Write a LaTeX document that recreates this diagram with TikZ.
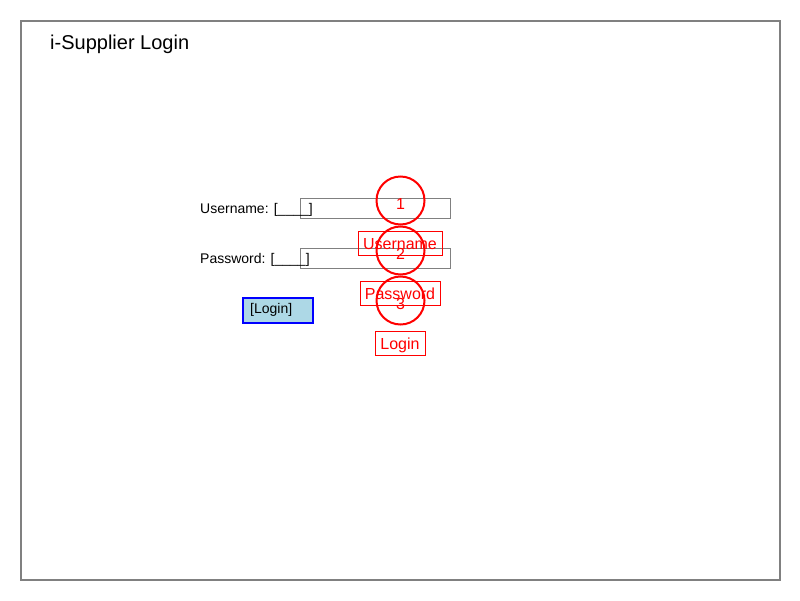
\documentclass[tikz,border=0pt]{standalone}
\usepackage{fontspec}
\setmainfont{Liberation Sans}
\begin{document}
\begin{tikzpicture}[x=1pt,y=-1pt,
  frame/.style={draw=gray, line width=2pt},
  field/.style={draw=gray, line width=1pt, minimum width=150pt, minimum height=20pt, inner sep=0pt},
  lbl/.style={anchor=west, inner sep=0pt, font=\fontsize{14pt}{16pt}\selectfont},
  btn/.style={draw=blue, fill={rgb,255:red,173;green,216;blue,230}, line width=2pt, minimum width=70pt, minimum height=25pt, inner sep=0pt},
  marker/.style={circle, draw=red, line width=2pt, minimum size=48pt, inner sep=0pt, text=red, font=\fontsize{16pt}{18pt}\selectfont, text height=17.5pt, text depth=0pt},
  tag/.style={draw=red, line width=0.8pt, text=red, inner sep=0pt, font=\fontsize{16pt}{18pt}\selectfont, text height=13.5pt, text depth=0pt}
]
\useasboundingbox (0,0) rectangle (800,600);
\coordinate (fnw) at (21,21);
\coordinate (fse) at (780,580);
\draw[frame] (fnw) rectangle (fse);
\node[anchor=west, inner sep=0pt, font=\fontsize{20pt}{22pt}\selectfont] (title) at (50,44) {i-Supplier Login};
\node[field, anchor=north west] (ufield) at (300,198) {};
\node[field, anchor=north west] (pfield) at (300,248) {};
\node[lbl] (ulabel) at (200,210) {Username: [\_\_\_\_]};
\node[lbl] (plabel) at (200,260) {Password: [\_\_\_\_]};
\node[btn, anchor=north west] (loginbtn) at (242,297) {};
\node[lbl] (logintext) at (250,310) {[Login]};
\node[marker] (m1) at (400.5,200.5) {1};
\node[marker] (m2) at (400.5,250.5) {2};
\node[marker] (m3) at (400.5,300.5) {3};
\node[tag, minimum width=84pt, minimum height=24pt] (t1) at (400,243) {Username};
\node[tag, minimum width=80pt, minimum height=24pt] (t2) at (400,293) {Password};
\node[tag, minimum width=50pt, minimum height=24pt] (t3) at (400,343) {Login};
\end{tikzpicture}
\end{document}
